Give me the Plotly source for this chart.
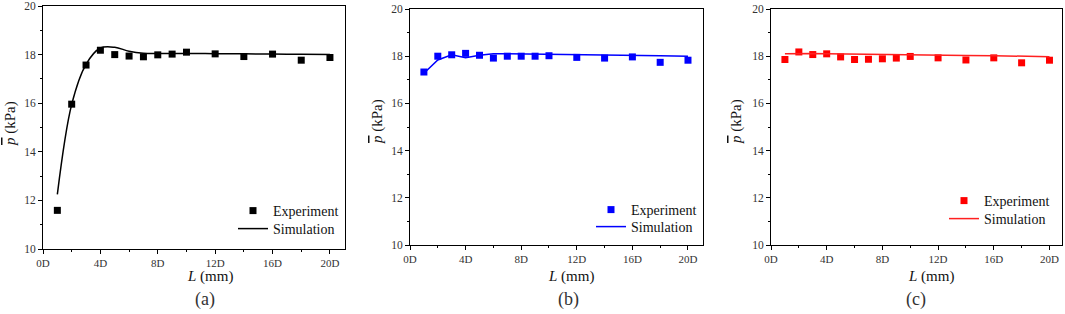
import plotly.graph_objects as go

L = [1, 2, 3, 4, 5, 6, 7, 8, 9, 10, 12, 14, 16, 18, 20]

exp_a = [11.59, 15.96, 17.57, 18.18, 18.0, 17.94, 17.91, 17.99, 18.02, 18.1, 18.03, 17.92, 18.02, 17.77, 17.88]
sim_a = [12.25, 15.95, 17.6, 18.27, 18.3, 18.14, 18.06, 18.05, 18.05, 18.05, 18.04, 18.03, 18.02, 18.01, 18.0]

exp_b = [17.33, 18.0, 18.06, 18.12, 18.04, 17.92, 18.0, 18.0, 18.0, 18.02, 17.95, 17.92, 17.97, 17.74, 17.83]
sim_b = [17.28, 17.84, 18.06, 17.94, 18.04, 18.1, 18.1, 18.09, 18.08, 18.07, 18.06, 18.04, 18.03, 18.02, 18.0]

exp_c = [17.86, 18.18, 18.07, 18.1, 17.97, 17.86, 17.87, 17.89, 17.92, 17.99, 17.93, 17.84, 17.93, 17.72, 17.83]
sim_c = [18.1, 18.12, 18.11, 18.1, 18.09, 18.09, 18.08, 18.08, 18.07, 18.06, 18.05, 18.03, 18.02, 18.0, 17.98]

xtick_vals = [0, 4, 8, 12, 16, 20]
xtick_text = ["0D", "4D", "8D", "12D", "16D", "20D"]
ytick_vals = [10, 12, 14, 16, 18, 20]

W, H = 1065, 314

panels = [
    dict(exp=exp_a, sim=sim_a, color="#000000", simcolor="#000000", shape="spline",
         xd=[43, 345], yd=[249, 6], xr=[0, 21.05], lab="(a)", labx=205, xtx=210, ytx=(10, 124),
         legexp=(233, 195), legsim=(233, 213)),
    dict(exp=exp_b, sim=sim_b, color="#0000FF", simcolor="#0000FF", shape="linear",
         xd=[410, 703], yd=[245, 9], xr=[0, 21.08], lab="(b)", labx=568, xtx=571, ytx=(377, 122),
         legexp=(591, 194), legsim=(591, 211)),
    dict(exp=exp_c, sim=sim_c, color="#FF0000", simcolor="#FF2020", shape="linear",
         xd=[771, 1062], yd=[245, 9], xr=[0, 20.9], lab="(c)", labx=916, xtx=931, ytx=(736, 122),
         legexp=(944, 185), legsim=(944, 203)),
]

font = "Times New Roman, Liberation Serif, serif"
fig = go.Figure()
layout = dict(width=W, height=H, margin=dict(l=0, r=0, t=0, b=0, autoexpand=False),
              paper_bgcolor="white", plot_bgcolor="white", showlegend=True,
              font=dict(family=font, size=12, color="#000000"), annotations=[])

legn = 0
for i, p in enumerate(panels):
    k = "" if i == 0 else str(i + 1)
    le = "legend" + ("" if legn == 0 else str(legn + 1))
    ls = "legend" + str(legn + 2)
    legn += 2
    fig.add_trace(go.Scatter(x=L, y=p["exp"], mode="markers", name="Experiment", showlegend=True,
                             marker=dict(symbol="square", size=7, color=p["color"]),
                             xaxis="x" + k, yaxis="y" + k, legend=le))
    fig.add_trace(go.Scatter(x=L, y=p["sim"], mode="lines", name="Simulation", showlegend=True,
                             line=dict(color=p["simcolor"], width=1.5, shape=p["shape"], smoothing=1.0),
                             xaxis="x" + k, yaxis="y" + k, legend=ls))
    layout["xaxis" + k] = dict(domain=[p["xd"][0] / W, p["xd"][1] / W], range=p["xr"], anchor="y" + k,
                               automargin=False,
                               tickvals=xtick_vals, ticktext=xtick_text, ticklabeloverflow="allow",
                               ticks="outside", ticklen=4, tickcolor="#000", tickwidth=1,
                               minor=dict(ticks="outside", tickvals=[2, 6, 10, 14, 18], ticklen=2, tickcolor="#000"),
                               showline=True, linecolor="#000", linewidth=1, mirror=True,
                               showgrid=False, zeroline=False,
                               tickfont=dict(family=font, size=11, color="#333"))
    layout["yaxis" + k] = dict(domain=[1 - p["yd"][0] / H, 1 - p["yd"][1] / H], range=[10, 20], anchor="x" + k,
                               automargin=False,
                               tickvals=ytick_vals, ticklabeloverflow="allow",
                               ticks="outside", ticklen=4, tickcolor="#000", tickwidth=1,
                               minor=dict(ticks="outside", tickvals=[11, 13, 15, 17, 19], ticklen=2, tickcolor="#000"),
                               showline=True, linecolor="#000", linewidth=1, mirror=True,
                               showgrid=False, zeroline=False,
                               tickfont=dict(family=font, size=11.5, color="#333"))
    for name, pos in ((le, p["legexp"]), (ls, p["legsim"])):
        layout[name] = dict(x=pos[0] / W, y=1 - pos[1] / H, xanchor="left", yanchor="top",
                            bgcolor="rgba(0,0,0,0)", font=dict(family=font, size=14, color="#111"),
                            itemwidth=30, visible=True)
    layout["annotations"].append(dict(text=p["lab"], x=p["labx"] / W, y=1 - 299 / H,
                                      xref="paper", yref="paper", showarrow=False,
                                      xanchor="center", yanchor="middle",
                                      font=dict(family=font, size=18, color="#333")))
    layout["annotations"].append(dict(text="<i>L</i> (mm)", x=p["xtx"] / W, y=1 - 276 / H,
                                      xref="paper", yref="paper", showarrow=False,
                                      xanchor="center", yanchor="middle",
                                      font=dict(family=font, size=15, color="#111")))
    layout["annotations"].append(dict(text="<span style=\"text-decoration:overline\"><i>p</i></span> (kPa)",
                                      x=p["ytx"][0] / W, y=1 - p["ytx"][1] / H, textangle=-90,
                                      xref="paper", yref="paper", showarrow=False,
                                      xanchor="center", yanchor="middle",
                                      font=dict(family=font, size=15, color="#111")))

fig.update_layout(**layout)
fig.write_html("out.html", config={"displayModeBar": False},
               post_script="document.body.style.margin='0';document.body.style.overflow='hidden';")
